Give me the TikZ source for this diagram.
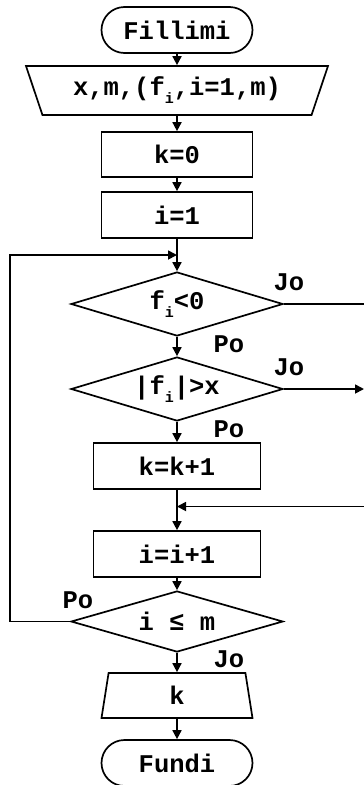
\documentclass[tikz,border=0pt]{standalone}
\usepackage{fontspec}
\setmainfont{Liberation Mono}
\usetikzlibrary{shapes.geometric,arrows.meta}
\newcommand{\sbi}{\raisebox{-8pt}{\fontsize{15}{15}\selectfont i}}
\tikzset{
  base/.style={draw,line width=1.7pt,font=\fontsize{25.5}{28}\selectfont\bfseries,inner sep=0pt},
  term/.style={base,rectangle,rounded corners=23pt,minimum width=151pt,minimum height=46pt},
  proc/.style={base,rectangle,minimum height=46pt},
  dec/.style={base,diamond,aspect=3.3,minimum width=212pt,minimum height=64pt},
  inp/.style={base,trapezium,trapezium stretches body,shape border rotate=180},
  outp/.style={base,trapezium,trapezium stretches body},
  lbl/.style={font=\fontsize{25.5}{28}\selectfont\bfseries,inner sep=0pt},
  con/.style={line width=1.7pt},
  arr/.style={con,-{Triangle[length=9pt,width=9pt]}}
}
\begin{document}
\begin{tikzpicture}[x=1pt,y=-1pt]
\useasboundingbox (0,0) rectangle (364,785);
\clip (0,0) rectangle (364,785);
\node[term] (start) at (177,30) {Fillimi};
\node[inp,trapezium left angle=58.5,trapezium right angle=58.5,minimum width=302pt,minimum height=49pt] (in) at (177,90.5) {x,m,(f\sbi,i=1,m)};
\node[proc,minimum width=151pt,minimum height=45pt] (k0) at (177,154.5) {k=0};
\node[proc,minimum width=151pt] (i1) at (177,215) {i=1};
\coordinate (j1) at (177,255);
\node[dec] (d1) at (177,304) {f\sbi<0};
\node[dec] (d2) at (177,389) {|f\sbi|>x};
\node[proc,minimum width=167pt] (kk) at (177,466) {k=k+1};
\coordinate (j2) at (177,506.5);
\node[proc,minimum width=167pt] (ii) at (177,554) {i=i+1};
\node[dec,minimum height=61pt] (d3) at (177,621.5) {i ≤ m};
\node[outp,trapezium left angle=69,trapezium right angle=69,minimum width=151pt,minimum height=45pt] (out) at (177,695.5) {k};
\node[term] (end) at (177,763) {Fundi};
\coordinate (r1) at (370,304);
\coordinate (r2) at (364,389);
\coordinate (r3) at (370,506.5);
\coordinate (lft) at (10,621.5);
\coordinate (lft2) at (10,255);
\node[lbl] (jo1) at (289,282) {Jo};
\node[lbl] (po1) at (229,344) {Po};
\node[lbl] (jo2) at (289,367) {Jo};
\node[lbl] (po2) at (229,429) {Po};
\node[lbl] (po3) at (78,600) {Po};
\node[lbl] (jo3) at (229,659) {Jo};
\draw[arr] (start) -- (in);
\draw[arr] (in) -- (k0);
\draw[arr] (k0) -- (i1);
\draw[arr] (i1.south) -- (d1.north);
\draw[arr] (d1.south) -- (d2.north);
\draw[arr] (d2.south) -- (kk.north);
\draw[arr] (kk.south) -- (ii.north);
\draw[arr] (ii.south) -- (d3.north);
\draw[arr] (d3.south) -- (out.north);
\draw[arr] (out.south) -- (end.north);
\draw[con] (d1.east) -- (r1);
\draw[arr] (d2.east) -- (r2);
\draw[arr] (r3) -- (j2);
\draw[arr] (d3.west) -- (lft) -- (lft2) -- (j1);
\end{tikzpicture}
\end{document}
